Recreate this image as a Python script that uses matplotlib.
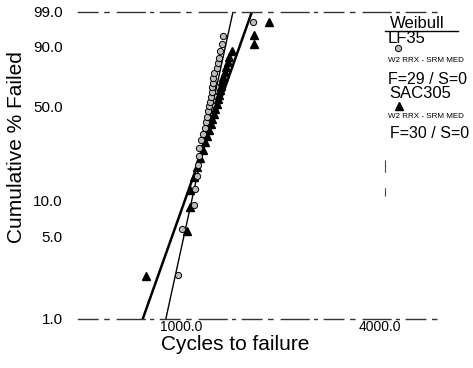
import numpy as np
import matplotlib.pyplot as plt
from matplotlib.lines import Line2D
from matplotlib.ticker import NullLocator

plt.rcParams['font.family'] = ['Liberation Sans', 'DejaVu Sans']

# failure cycles (sorted)
lf35_cycles = [979, 1007, 1095, 1102, 1118, 1126, 1133, 1133, 1149, 1166,
               1182, 1190, 1199, 1207, 1215, 1224, 1232, 1241, 1241, 1250,
               1250, 1258, 1285, 1294, 1303, 1312, 1331, 1340, 1652]
sac305_cycles = [784, 1043, 1065, 1065, 1095, 1118, 1141, 1166, 1182, 1199,
                 1215, 1232, 1241, 1258, 1267, 1285, 1294, 1303, 1312, 1321,
                 1331, 1340, 1359, 1368, 1387, 1397, 1427, 1663, 1663, 1846]

# weibull fit parameters (beta, eta)
lf35_beta, lf35_eta = 13.1, 1279
sac305_beta, sac305_eta = 8.06, 1357

y_ticks = [1.0, 5.0, 10.0, 50.0, 90.0, 99.0]
x_ticks = [1000.0, 4000.0]


def median_rank(n):
	i = np.arange(1, n + 1)
	return (i - 0.3) / (n + 0.4) * 100


def fwd(p):
	p = np.clip(p, 1e-6, 100 - 1e-6)
	return np.log(-np.log(1 - p / 100))


def inv(y):
	return 100 * (1 - np.exp(-np.exp(y)))


def fit_line(beta, eta):
	p = np.array([0.5, 99.5])
	t = eta * (-np.log(1 - p / 100)) ** (1.0 / beta)
	return t, p


W, H = 473.0, 368.0
fig = plt.figure(figsize=(4.73, 3.68), dpi=100)
ax = fig.add_axes([78 / W, 1 - 318.5 / H, (440 - 78) / W, (318.5 - 11.5) / H])
ax.set_xscale('log')
ax.set_yscale('function', functions=(fwd, inv))
ax.set_xlim(488, 6074)
ax.set_ylim(1, 99)

t, p = fit_line(sac305_beta, sac305_eta)
ax.plot(t, p, color='black', lw=1.8, zorder=2)
t, p = fit_line(lf35_beta, lf35_eta)
ax.plot(t, p, color='black', lw=1.0, zorder=2)

ax.plot(sac305_cycles, median_rank(len(sac305_cycles)), '^', color='black',
        ms=5.5, zorder=3, clip_on=False)
ax.plot(lf35_cycles, median_rank(len(lf35_cycles)), 'o', mfc='#bcbcbc',
        mec='black', mew=0.7, ms=4.5, zorder=4, clip_on=False)

ax.set_xticks(x_ticks)
ax.set_xticklabels(['%.1f' % v for v in x_ticks], fontsize=10)
ax.set_yticks(y_ticks)
ax.set_yticklabels(['%.1f' % v for v in y_ticks], fontsize=11)
ax.xaxis.set_minor_locator(NullLocator())
ax.yaxis.set_minor_locator(NullLocator())
ax.tick_params(axis='x', length=0, pad=1)
ax.tick_params(axis='y', length=0, pad=11)

ax.spines['left'].set_visible(False)
ax.spines['right'].set_visible(False)
for s in ['top', 'bottom']:
	ax.spines[s].set_linestyle((0, (14, 5, 3, 6, 20, 4, 2, 5)))
	ax.spines[s].set_linewidth(1.0)
	ax.spines[s].set_color('#333333')

fig.text(235 / W, 1 - 350 / H, 'Cycles to failure', fontsize=15,
         ha='center', va='baseline')
fig.text(16 / W, 1 - 147 / H, 'Cumulative % Failed', fontsize=15,
         rotation=90, ha='center', va='center')

# legend block on the right
fig.text(390 / W, 1 - 23 / H, 'Weibull', fontsize=12, ha='left', va='center')
fig.add_artist(Line2D([385 / W, 458 / W], [1 - 31 / H, 1 - 31 / H],
                      color='black', lw=1.0))
fig.text(388 / W, 1 - 38.5 / H, 'LF35', fontsize=12, ha='left', va='center')
fig.add_artist(Line2D([398 / W], [1 - 48 / H], marker='o', mfc='#bcbcbc',
                      mec='black', mew=0.7, ms=4.5, ls='none'))
fig.text(388 / W, 1 - 60 / H, 'W2 RRX - SRM MED', fontsize=5.8,
         ha='left', va='center')
fig.text(388 / W, 1 - 80 / H, 'F=29 / S=0', fontsize=11.5, ha='left', va='center')
fig.text(389 / W, 1 - 94 / H, 'SAC305', fontsize=12, ha='left', va='center')
fig.add_artist(Line2D([399 / W], [1 - 106 / H], marker='^', color='black',
                      ms=5.5, ls='none'))
fig.text(388 / W, 1 - 117 / H, 'W2 RRX - SRM MED', fontsize=5.8,
         ha='left', va='center')
fig.text(390 / W, 1 - 133 / H, 'F=30 / S=0', fontsize=11.5, ha='left', va='center')
fig.add_artist(Line2D([385 / W, 385 / W], [1 - 160 / H, 1 - 196 / H],
                      color='#444444', lw=0.8, ls=(0, (11, 14))))

fig.savefig('out.png', dpi=100)
